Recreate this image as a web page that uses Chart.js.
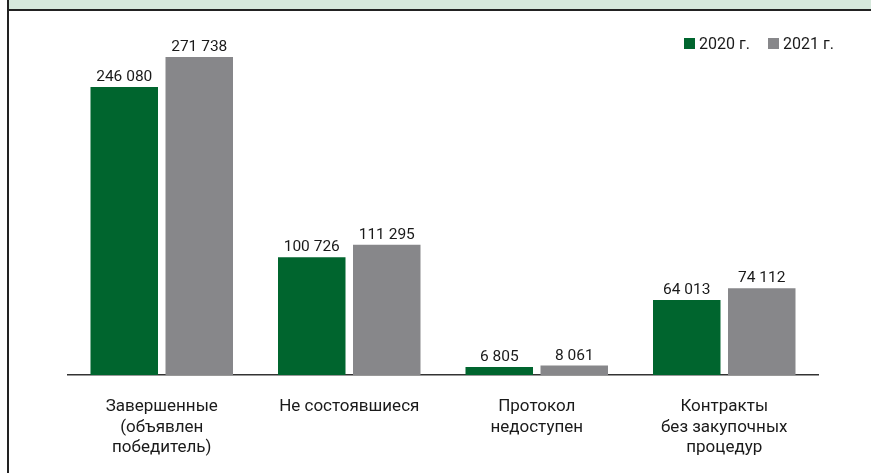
<!DOCTYPE html>
<html>
<head>
<meta charset="utf-8">
<script src="https://cdn.jsdelivr.net/npm/chart.js@4"></script>
<style>
  html, body { margin:0; padding:0; background:#fff; }
  #wrap { position:relative; width:871px; height:473px; overflow:hidden; font-family:Roboto, sans-serif; }
  #head { position:absolute; left:8px; top:0; width:863px; height:9px; background:#d6e8dc; border-bottom:2px solid #222; }
  #lborder { position:absolute; left:7px; top:0; width:2px; height:473px; background:#222; }
  #chart { position:absolute; left:0; top:0; }
  .legend { position:absolute; top:34px; display:flex; align-items:center; font-size:16px; color:#1a1a1a; }
  .legend i { display:inline-block; width:11px; height:11px; margin-right:4px; }
</style>
</head>
<body>
<div id="wrap">
  <canvas id="chart" width="871" height="473"></canvas>
  <div id="head"></div>
  <div id="lborder"></div>
  <div class="legend" style="left:684px"><i style="background:#00652e"></i>2020 г.</div>
  <div class="legend" style="left:768px"><i style="background:#87878a"></i>2021 г.</div>
</div>
<script>
// ===== DATA =====
const categories = [
  ['Завершенные', '(объявлен', 'победитель)'],
  ['Не состоявшиеся'],
  ['Протокол', 'недоступен'],
  ['Контракты', 'без закупочных', 'процедур']
];
const values2020 = [246080, 100726, 6805, 64013];
const values2021 = [271738, 111295, 8061, 74112];
const seriesNames = ['2020 г.', '2021 г.'];
const seriesColors = ['#00652e', '#87878a'];

const fmtN = v => String(v).replace(/\B(?=(\d{3})+(?!\d))/g, ' ');

// value labels above bars
const barLabels = {
  id: 'barLabels',
  afterDatasetsDraw(chart) {
    const ctx = chart.ctx;
    ctx.save();
    ctx.font = '15.5px Roboto, sans-serif';
    ctx.fillStyle = '#1a1a1a';
    ctx.textAlign = 'center';
    ctx.textBaseline = 'bottom';
    chart.data.datasets.forEach((ds, di) => {
      chart.getDatasetMeta(di).data.forEach((bar, i) => {
        ctx.fillText(fmtN(ds.data[i]), bar.x, bar.y - 2);
      });
    });
    ctx.restore();
  }
};

new Chart(document.getElementById('chart'), {
  type: 'bar',
  data: {
    labels: categories,
    datasets: [
      {label: seriesNames[0], data: values2020, backgroundColor: seriesColors[0]},
      {label: seriesNames[1], data: values2021, backgroundColor: seriesColors[1]}
    ]
  },
  options: {
    responsive: false,
    animation: false,
    layout: {padding: {left: 68, right: 53, top: 24, bottom: 0}},
    datasets: {bar: {categoryPercentage: 0.8, barPercentage: 0.9}},
    plugins: {legend: {display: false}, tooltip: {enabled: false}},
    scales: {
      y: {display: false, min: 0, max: 300000},
      x: {
        grid: {display: false, drawTicks: false},
        border: {display: true, color: '#333', width: 1.5},
        ticks: {color: '#1a1a1a', font: {family: 'Roboto', size: 17, lineHeight: 1.2}, padding: 22, maxRotation: 0},
        afterFit: s => { s.height = 98; }
      }
    }
  },
  plugins: [barLabels]
});
</script>
</body>
</html>
